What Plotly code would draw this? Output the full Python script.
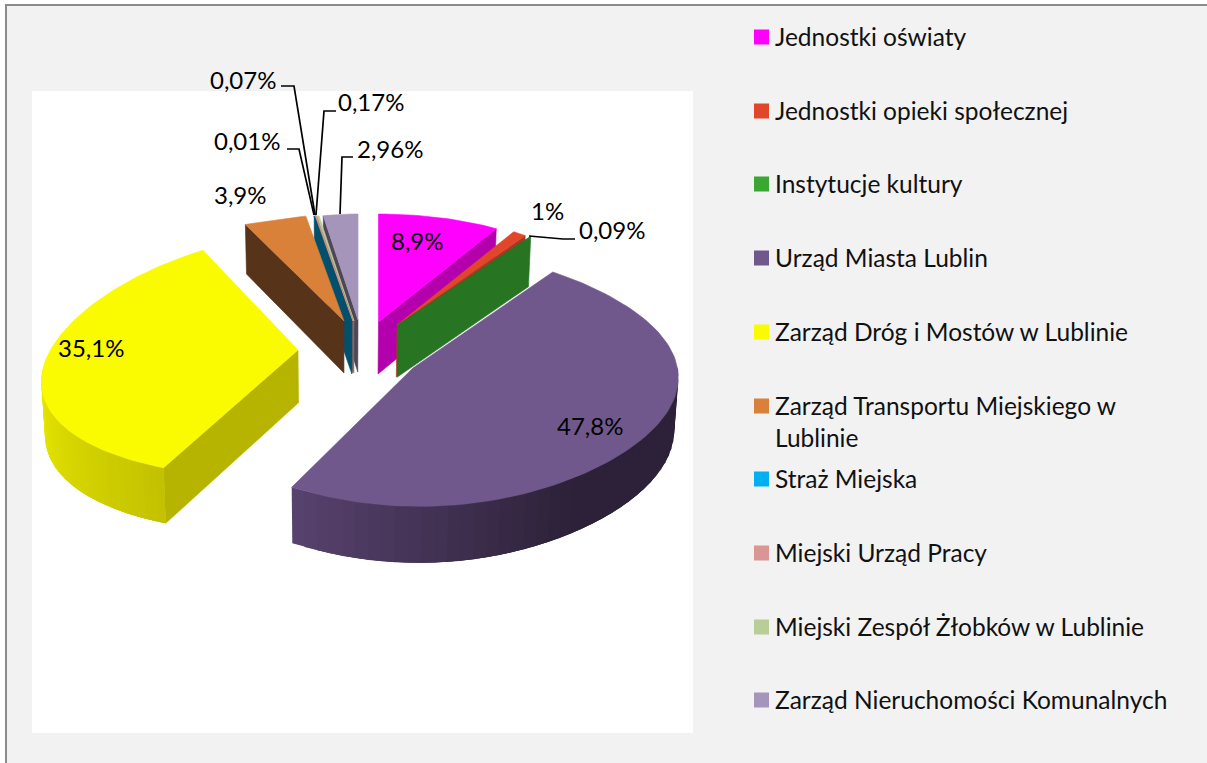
import math
import plotly.graph_objects as go

# ---------- data ----------
categories = ["Jednostki oświaty", "Jednostki opieki społecznej", "Instytucje kultury",
              "Urząd Miasta Lublin", "Zarząd Dróg i Mostów w Lublinie",
              "Zarząd Transportu Miejskiego w<br>Lublinie", "Straż Miejska", "Miejski Urząd Pracy",
              "Miejski Zespół Żłobków w Lublinie", "Zarząd Nieruchomości Komunalnych"]
values = [8.9, 1.0, 0.09, 47.8, 35.1, 3.9, 0.01, 0.07, 0.17, 2.96]
value_labels = ["8,9%", "1%", "0,09%", "47,8%", "35,1%", "3,9%", "0,01%", "0,07%", "0,17%", "2,96%"]
legend_colors = ["#ff00ff", "#e0472a", "#38a832", "#70588c", "#fafa00",
                 "#d98039", "#00b0f0", "#d99694", "#b9cd96", "#a695bb"]
top_colors = ["#ff00ff", "#e0472a", "#277423", "#70588c", "#fafa00",
              "#d98039", "#02506e", "#d99694", "#b9cd96", "#a695bb"]
wall_colors = ["#b400ac", "#a8381f", "#277423", "#2c2138", "#b7b400",
               "#57331a", "#02506e", "#8f5f5e", "#6f7b5a", "#4e4558"]

# ---------- projection of each exploded slice ----------
# apex x, apex y, rx base, rx cos term, rx cos^2 term, ry base, ry cos term, skew
proj = [
    (378.5, 322, 222, 0, 0, 121, -13, 0),
    (397, 325, 220, 0, 0, 110, 0, 0),
    (398, 325, 226, 0, 0, 109, 0, 0),
    (413, 368, 265, -13.6, -24.4, 129, -9.3, 4),
    (298, 350, 254, -37, -0.9, 121.6, -4.3, -15),
    (344, 321, 668, -487.5, 0, 107, 0, 0),
    (352, 322, 189, 0, 0, 108, 0, 0),
    (353, 321, 189, 0, 0, 108, 0, 0),
    (354, 321, 189, 0, 0, 107, 0, 0),
    (358, 320, 188, 0, 0, 106, 0, 0),
]
draw_order = [9, 8, 7, 6, 5, 4, 0, 1, 2, 3]
SIDE_CX = 340


def top_pt(i, deg):
    ax, ay, rs, e1, e2, rym, d, sk = proj[i]
    t = math.radians(deg)
    c, s = math.cos(t), math.sin(t)
    return ax + s * (rs + e1 * c + e2 * c * c), ay - c * (rym + d * c) + sk * s


def drop(p):
    h = 52 + 0.025 * (p[1] - 322)
    return p[0] + (SIDE_CX - p[0]) * 0.012, p[1] + h


def mix(a, b, f):
    ca = [int(a[k:k + 2], 16) for k in (1, 3, 5)]
    cb = [int(b[k:k + 2], 16) for k in (1, 3, 5)]
    return "#%02x%02x%02x" % tuple(round(u + (v - u) * f) for u, v in zip(ca, cb))


fig = go.Figure()


def poly(pts, color, lw=0.6):
    pts = list(pts) + [pts[0]]
    fig.add_trace(go.Scatter(x=[p[0] for p in pts], y=[p[1] for p in pts], mode="lines",
                             fill="toself", fillcolor=color, line=dict(color=color, width=lw),
                             hoverinfo="skip", showlegend=False))


starts = []
acc = 0.0
for v in values:
    starts.append(acc)
    acc += v
total = acc
ang = [(s * 360 / total, (s + v) * 360 / total) for s, v in zip(starts, values)]

for i in draw_order:
    a0, a1 = ang[i]
    ap = (proj[i][0], proj[i][1])
    # flat cut face
    if i < 3:
        e = top_pt(i, a1)
        poly([ap, e, drop(e), drop(ap)], wall_colors[i])
    elif i > 3:
        e = top_pt(i, a0)
        poly([ap, e, drop(e), drop(ap)], wall_colors[i])
    # curved rim, each strip overlapping the following one so no seams show
    if i == 3:
        lo, hi, cl, cr = a1, 88, "#57416d", "#2c2138"
    elif i == 4:
        lo, hi, cl, cr = 274, a0, "#f0f000", "#c4c200"
    else:
        lo = None
    if lo is not None:
        n = 40
        step = (hi - lo) / n
        for k in range(n):
            p0 = top_pt(i, lo + k * step)
            p1 = top_pt(i, lo + min(k + 3, n) * step)
            f = k / (n - 1)
            if i == 3:
                f = min(1.0, f / 0.55)
            poly([p0, p1, drop(p1), drop(p0)], mix(cl, cr, f), lw=0)
    # top surface
    n = max(2, int((a1 - a0) / 1.5))
    arc = [top_pt(i, a0 + (a1 - a0) * k / n) for k in range(n + 1)]
    poly([ap] + arc, top_colors[i])

# ---------- leader lines ----------
leaders = [
    ([281, 294, 315], [86, 86, 215]),
    ([287, 299, 314], [149, 149, 215]),
    ([336, 324, 316], [111, 111, 215]),
    ([353, 342, 340], [157, 157, 214]),
    ([529, 563, 575], [236, 239, 239]),
]
for lx, ly in leaders:
    fig.add_trace(go.Scatter(x=lx, y=ly, mode="lines", line=dict(color="#000000", width=1.7),
                             hoverinfo="skip", showlegend=False))

# ---------- legend ----------
legend_y = [37, 111, 184, 258, 332, 406, 479, 553, 627, 700]
legend_text_dy = [-1, -1, -1, -1, -1, 15, -1, -1, -1, -1]
FONT = "Lato, Carlito, Calibri, sans-serif"
fig.add_trace(go.Scatter(x=[761.5] * len(categories), y=legend_y, mode="markers",
                         marker=dict(symbol="square", size=15, color=legend_colors, line=dict(width=0)),
                         hoverinfo="skip", showlegend=False))
annotations = []
for c, y, dy in zip(categories, legend_y, legend_text_dy):
    annotations.append(dict(x=775, y=y + dy, text=c, xref="x", yref="y", showarrow=False, xanchor="left",
                            yanchor="middle", align="left", borderpad=0, borderwidth=0,
                            font=dict(family=FONT, size=24.5, color="#111111")))

# ---------- value labels ----------
label_x = [417, 547, 612, 590, 91, 240, 247, 243, 371, 390]
label_y = [240, 210, 229, 425, 347, 194, 140, 79, 101, 148]
for t, x, y in zip(value_labels, label_x, label_y):
    annotations.append(dict(x=x, y=y, text=t, xref="x", yref="y", showarrow=False, xanchor="center",
                            yanchor="middle", borderpad=0, borderwidth=0,
                            font=dict(family=FONT, size=24, color="#000000")))

fig.update_layout(
    width=1207, height=763, margin=dict(l=0, r=0, t=0, b=0, pad=0),
    paper_bgcolor="#ffffff", plot_bgcolor="rgba(0,0,0,0)", showlegend=False,
    xaxis=dict(range=[0, 1207], visible=False, fixedrange=True),
    yaxis=dict(range=[763, 0], visible=False, fixedrange=True),
    annotations=annotations,
    shapes=[
        dict(type="rect", x0=6, y0=5, x1=1215, y1=775, xref="x", yref="y", layer="below",
             fillcolor="#f2f2f2", line=dict(color="#8c8c8c", width=2)),
        dict(type="rect", x0=32, y0=91, x1=693, y1=733, xref="x", yref="y", layer="below",
             fillcolor="#ffffff", line=dict(width=0)),
    ],
)
fig.write_html("out.html", config={"displayModeBar": False},
               post_script="document.body.style.margin='0';document.body.style.overflow='hidden';")
